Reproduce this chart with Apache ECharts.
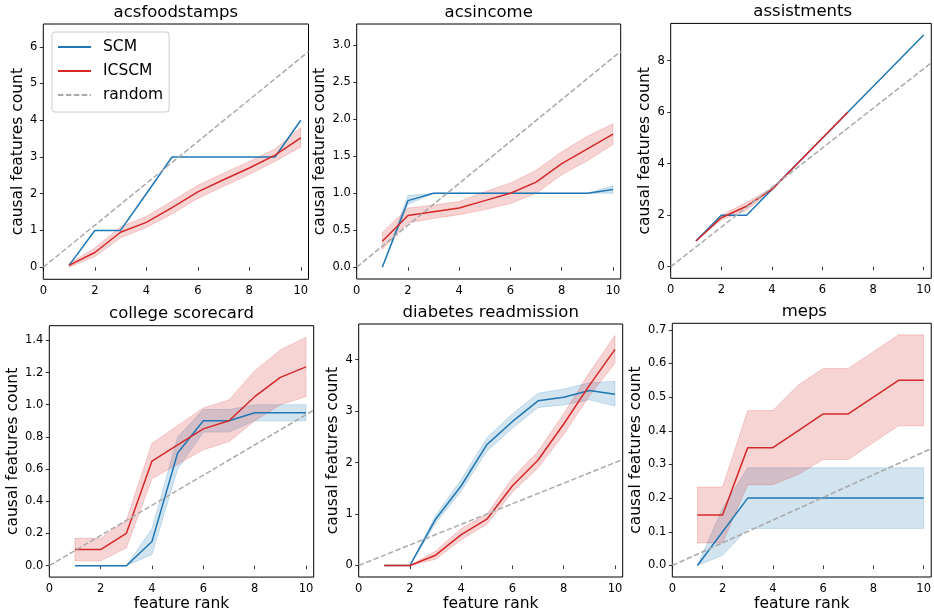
<!DOCTYPE html>
<html><head><meta charset="utf-8">
<script src="https://cdn.jsdelivr.net/npm/echarts@6/dist/echarts.min.js"></script>
<style>html,body{margin:0;padding:0;background:#fff}#c{width:934px;height:613px}</style>
</head><body><div id="c"></div>
<script>
// ---------------- data ----------------
const titles = ['acsfoodstamps', 'acsincome', 'assistments', 'college scorecard', 'diabetes readmission', 'meps'];
const featureRank = [1, 2, 3, 4, 5, 6, 7, 8, 9, 10];
const xTicks = [0, 2, 4, 6, 8, 10];
const xMax = 10.3;

// acsfoodstamps
const food_scm = [0.05, 1, 1, 2, 3, 3, 3, 3, 3, 4];
const food_ic = [0.05, 0.4, 0.95, 1.22, 1.62, 2.05, 2.38, 2.7, 3.05, 3.52];
const food_icLo = [0.0, 0.29, 0.8, 1.08, 1.45, 1.87, 2.2, 2.52, 2.88, 3.27];
const food_icHi = [0.1, 0.52, 1.1, 1.38, 1.8, 2.23, 2.56, 2.88, 3.22, 3.8];
const food_yTicks = [0, 1, 2, 3, 4, 5, 6];

// acsincome
const inc_scm = [0, 0.9, 1, 1, 1, 1, 1, 1, 1, 1.05];
const inc_scmLo = [0, 0.85, 1, 1, 1, 1, 1, 1, 1, 1.0];
const inc_scmHi = [0, 0.97, 1, 1, 1, 1, 1, 1, 1, 1.1];
const inc_ic = [0.35, 0.7, 0.75, 0.8, 0.9, 1.0, 1.15, 1.4, 1.6, 1.8];
const inc_icLo = [0.24, 0.6, 0.66, 0.71, 0.78, 0.86, 1.0, 1.25, 1.44, 1.66];
const inc_icHi = [0.47, 0.8, 0.84, 0.89, 1.02, 1.14, 1.31, 1.56, 1.77, 1.94];
const inc_yTicks = [0, 0.5, 1.0, 1.5, 2.0, 2.5, 3.0];

// assistments
const asst_scm = [1, 2, 2, 3, 4, 5, 6, 7, 8, 9];
const asst_ic = [1, 1.9, 2.35, 3, 4, 5, 6];
const asst_icLo = [1, 1.82, 2.2, 2.95, 4, 5, 6];
const asst_icHi = [1, 2.0, 2.5, 3.05, 4, 5, 6];
const asst_yTicks = [0, 2, 4, 6, 8];

// college scorecard
const col_scm = [0, 0, 0, 0.15, 0.7, 0.9, 0.9, 0.95, 0.95, 0.95];
const col_scmLo = [0, 0, 0, 0.07, 0.6, 0.83, 0.83, 0.9, 0.9, 0.9];
const col_scmHi = [0, 0, 0, 0.23, 0.8, 0.97, 0.97, 1.0, 1.0, 1.0];
const col_ic = [0.1, 0.1, 0.2, 0.65, 0.75, 0.85, 0.9, 1.05, 1.17, 1.235];
const col_icLo = [0.03, 0.03, 0.11, 0.54, 0.63, 0.72, 0.77, 0.9, 1.0, 1.05];
const col_icHi = [0.17, 0.17, 0.28, 0.76, 0.87, 0.98, 1.03, 1.21, 1.34, 1.42];
const col_yTicks = [0, 0.2, 0.4, 0.6, 0.8, 1.0, 1.2, 1.4];

// diabetes readmission
const dia_scm = [0, 0, 0.9, 1.55, 2.35, 2.8, 3.2, 3.27, 3.4, 3.33];
const dia_scmLo = [0, 0, 0.82, 1.45, 2.22, 2.67, 3.07, 3.12, 3.22, 3.1];
const dia_scmHi = [0, 0, 0.97, 1.67, 2.48, 2.95, 3.35, 3.43, 3.55, 3.58];
const dia_ic = [0, 0, 0.2, 0.6, 0.9, 1.55, 2.05, 2.75, 3.5, 4.2];
const dia_icLo = [0, 0, 0.12, 0.5, 0.8, 1.43, 1.9, 2.55, 3.3, 3.93];
const dia_icHi = [0, 0, 0.28, 0.72, 1.0, 1.7, 2.22, 2.95, 3.75, 4.47];
const dia_yTicks = [0, 1, 2, 3, 4];

// meps
const meps_scm = [0, 0.1, 0.2, 0.2, 0.2, 0.2, 0.2, 0.2, 0.2, 0.2];
const meps_scmLo = [0, 0.03, 0.11, 0.11, 0.11, 0.11, 0.11, 0.11, 0.11, 0.11];
const meps_scmHi = [0, 0.17, 0.29, 0.29, 0.29, 0.29, 0.29, 0.29, 0.29, 0.29];
const meps_ic = [0.15, 0.15, 0.35, 0.35, 0.4, 0.45, 0.45, 0.5, 0.55, 0.55];
const meps_icLo = [0.067, 0.067, 0.24, 0.24, 0.27, 0.315, 0.315, 0.365, 0.415, 0.415];
const meps_icHi = [0.233, 0.233, 0.46, 0.46, 0.535, 0.585, 0.585, 0.635, 0.685, 0.685];
const meps_yTicks = [0, 0.1, 0.2, 0.3, 0.4, 0.5, 0.6, 0.7];

// random baseline: value of the dashed line at the right edge (x = xMax), starting at (0,0)
const randomStart = [0, 0, 0, 0, 0, 0];
const randomEnd = [5.87, 2.92, 7.92, 0.966, 2.06, 0.347];

// ---------------- layout ----------------
const FONT = 'DejaVu Sans';
const panels = [
  {scm: food_scm, ic: food_ic, icLo: food_icLo, icHi: food_icHi, yTicks: food_yTicks, yMin: -0.33, yMax: 6.62, dec: 0,
   grid: [43.3, 24, 265.2, 255.3], nameGap: 16},
  {scm: inc_scm, scmLo: inc_scmLo, scmHi: inc_scmHi, ic: inc_ic, icLo: inc_icLo, icHi: inc_icHi, yTicks: inc_yTicks, yMin: -0.16, yMax: 3.29, dec: 1,
   grid: [356.7, 24, 264, 255], nameGap: 28.3},
  {scm: asst_scm, ic: asst_ic, icLo: asst_icLo, icHi: asst_icHi, yTicks: asst_yTicks, yMin: -0.45, yMax: 9.45, dec: 0,
   grid: [670.7, 23.4, 264, 254.9], nameGap: 17.3},
  {scm: col_scm, scmLo: col_scmLo, scmHi: col_scmHi, ic: col_ic, icLo: col_icLo, icHi: col_icHi, yTicks: col_yTicks, yMin: -0.071, yMax: 1.491, dec: 1,
   grid: [49.3, 325.7, 264.4, 254.3], nameGap: 28, xGap: 17.5},
  {scm: dia_scm, scmLo: dia_scmLo, scmHi: dia_scmHi, ic: dia_ic, icLo: dia_icLo, icHi: dia_icHi, yTicks: dia_yTicks, yMin: -0.224, yMax: 4.694, dec: 0,
   grid: [358.7, 324, 264, 253.7], nameGap: 17.8, xGap: 19},
  {scm: meps_scm, scmLo: meps_scmLo, scmHi: meps_scmHi, ic: meps_ic, icLo: meps_icLo, icHi: meps_icHi, yTicks: meps_yTicks, yMin: -0.0343, yMax: 0.7193, dec: 1,
   grid: [672.3, 323.3, 264, 254.4], nameGap: 26.7, xGap: 19}
];

const BLUE = '#1f77b4', RED = '#d62728';
const BLUE_F = 'rgba(31,119,180,0.2)', RED_F = 'rgba(214,39,40,0.2)';

function pairs(vals) { return vals.map((v, i) => [featureRank[i], v]); }

function bandSeries(idx, lo, hi, fill) {
  return {
    type: 'custom', xAxisIndex: idx, yAxisIndex: idx, silent: true, z: 1,
    data: [[featureRank[0], lo[0]]],
    renderItem: function (params, api) {
      const pts = [];
      for (let i = 0; i < lo.length; i++) pts.push(api.coord([featureRank[i], hi[i]]));
      for (let i = lo.length - 1; i >= 0; i--) pts.push(api.coord([featureRank[i], lo[i]]));
      return {type: 'polygon', shape: {points: pts}, style: {fill: fill, stroke: fill, lineWidth: 1}};
    }
  };
}

const grids = [], xAxes = [], yAxes = [], series = [], graphics = [];
panels.forEach((p, i) => {
  const [l, t, w, h] = p.grid;
  grids.push({left: l, top: t, width: w, height: h, show: true, borderColor: '#000', borderWidth: 1, backgroundColor: 'transparent'});
  const bottomRow = i >= 3;
  xAxes.push({
    gridIndex: i, type: 'value', min: 0, max: xMax,
    name: bottomRow ? 'feature rank' : '', nameLocation: 'middle', nameGap: p.xGap || 16,
    nameTextStyle: {fontFamily: FONT, fontSize: 15.5, color: '#000'},
    axisLine: {show: false},
    axisTick: {show: true, length: 3.5, customValues: xTicks, lineStyle: {color: '#000', width: 0.8}},
    axisLabel: {customValues: xTicks, margin: 6, fontFamily: FONT, fontSize: 11.5, color: '#000'},
    splitLine: {show: false}
  });
  yAxes.push({
    gridIndex: i, type: 'value', min: p.yMin, max: p.yMax,
    name: 'causal features count', nameLocation: 'middle', nameRotate: 90, nameGap: p.nameGap,
    nameTextStyle: {fontFamily: FONT, fontSize: 15.5, color: '#000'},
    axisLine: {show: false},
    axisTick: {show: true, length: 3.5, customValues: p.yTicks, lineStyle: {color: '#000', width: 0.8}},
    axisLabel: {customValues: p.yTicks, margin: 6, fontFamily: FONT, fontSize: 11.5, color: '#000',
      formatter: v => Number(v).toFixed(p.dec)},
    splitLine: {show: false}
  });
  if (p.scmLo) series.push(bandSeries(i, p.scmLo, p.scmHi, BLUE_F));
  if (p.icLo) series.push(bandSeries(i, p.icLo, p.icHi, RED_F));
  series.push({name: 'SCM', type: 'line', xAxisIndex: i, yAxisIndex: i, data: pairs(p.scm), symbol: 'none', z: 3,
    lineStyle: {color: BLUE, width: 1.5}, itemStyle: {color: BLUE}, silent: true});
  series.push({name: 'ICSCM', type: 'line', xAxisIndex: i, yAxisIndex: i, data: pairs(p.ic), symbol: 'none', z: 3,
    lineStyle: {color: RED, width: 1.5}, itemStyle: {color: RED}, silent: true});
  series.push({name: 'random', type: 'line', xAxisIndex: i, yAxisIndex: i, data: [[0, randomStart[i]], [xMax, randomEnd[i]]], symbol: 'none', z: 4,
    lineStyle: {color: '#aaaaaa', width: 1.5, type: [5.5, 2.4]}, itemStyle: {color: '#aaaaaa'}, silent: true});
  graphics.push({type: 'text', x: l + w / 2, y: t - 11.5, silent: true,
    style: {text: titles[i], font: '16.5px "DejaVu Sans"', fill: '#000', align: 'center', verticalAlign: 'middle'}});
});

const chart = echarts.init(document.getElementById('c'), null, {renderer: 'canvas'});
chart.setOption({
  animation: false,
  backgroundColor: '#fff',
  grid: grids, xAxis: xAxes, yAxis: yAxes, series: series, graphic: graphics,
  legend: {
    data: ['SCM', 'ICSCM', 'random'], orient: 'vertical', left: 52, top: 32,
    padding: [7, 6, 9, 5], itemWidth: 33, itemHeight: 14, itemGap: 8,
    itemStyle: {opacity: 0, borderWidth: 0},
    borderColor: '#cccccc', borderWidth: 1, borderRadius: 3, backgroundColor: 'rgba(255,255,255,0.8)',
    textStyle: {fontFamily: FONT, fontSize: 15.5, color: '#000', padding: [0, 0, 0, 7]},
    selectedMode: false, z: 10
  }
});
</script></body></html>
